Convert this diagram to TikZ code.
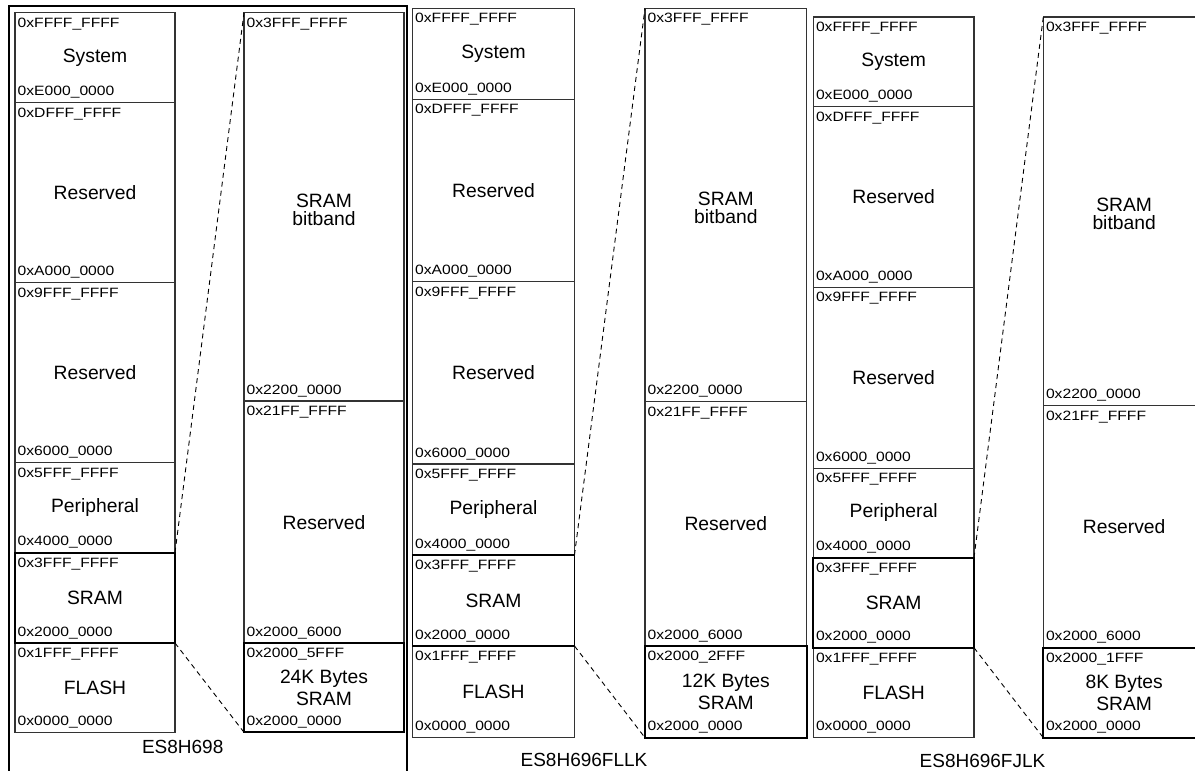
\documentclass[tikz,border=0pt]{standalone}
\usepackage{fontspec}
\setmainfont{Liberation Sans}
\newfontfamily\addrfont{Liberation Sans}[FakeStretch=1.16]
\tikzset{
  regbox/.style={draw=black!80, line width=1.1pt, inner sep=0pt, outer sep=0pt, anchor=north west},
  srambox/.style={regbox, draw=black, line width=1.7pt},
  addr/.style={font=\addrfont\fontsize{13.5}{15}\selectfont, inner sep=0pt, anchor=base west},
  lbl/.style={font=\fontsize{19.3}{22}\selectfont, inner sep=0pt, align=center},
  lblline/.style={font=\fontsize{19.3}{22}\selectfont, inner sep=0pt, anchor=base},
  link/.style={dashed, dash pattern=on 5pt off 4pt, line width=0.9pt, draw=black},
  panelframe/.style={draw=black, line width=2pt},
  title/.style={font=\fontsize{19}{21}\selectfont, inner sep=0pt}
}
% [style]{name}{x}{ytop}{ybot}{width}{top label}{bottom label}
\newcommand{\memreg}[8][regbox]{%
  \node[#1, minimum width=#6pt, minimum height=#5pt-#4pt] (#2) at (#3,#4) {};
  \node[addr, xshift=2.5pt, yshift=-14.5pt] (#2t) at (#2.north west) {#7};
  \node[addr, xshift=2.5pt, yshift=7pt] (#2b) at (#2.south west) {#8};
}
% {box name}: SRAM / bitband on two lines
\newcommand{\bitbandtext}[1]{%
  \node[lblline, yshift=-0.5pt] (#1s) at (#1.center) {SRAM};
  \node[lblline, yshift=-18.5pt] (#1bb) at (#1.center) {bitband};
}
\begin{document}
\begin{tikzpicture}[x=1pt,y=-1pt]
\useasboundingbox (0,0) rectangle (1195,771);
\clip (0,0) rectangle (1195,771);

% ---------------- Panel 1 : ES8H698 ----------------
\draw[panelframe] (9,780) -- (9,6) -- (407,6) -- (407,780);
\memreg{p1sys}{15}{12.7}{102.7}{160}{0xFFFF\_FFFF}{0xE000\_0000}
\memreg{p1resa}{15}{102.7}{282.7}{160}{0xDFFF\_FFFF}{0xA000\_0000}
\memreg{p1resb}{15}{282.7}{462.7}{160}{0x9FFF\_FFFF}{0x6000\_0000}
\memreg{p1per}{15}{462.7}{552.7}{160}{0x5FFF\_FFFF}{0x4000\_0000}
\memreg{p1fl}{15}{643}{732.3}{160}{0x1FFF\_FFFF}{0x0000\_0000}
\memreg[srambox]{p1sram}{15}{552.7}{643}{160}{0x3FFF\_FFFF}{0x2000\_0000}
\memreg{p1bit}{244}{12.7}{401}{160}{0x3FFF\_FFFF}{0x2200\_0000}
\memreg{p1bres}{244}{401}{643.3}{160}{0x21FF\_FFFF}{0x2000\_6000}
\memreg[srambox]{p1bsr}{244}{643.3}{732.3}{160}{0x2000\_5FFF}{0x2000\_0000}
\node[lbl] at (p1sys) {System};
\node[lbl] at (p1resa) {Reserved};
\node[lbl] at (p1resb) {Reserved};
\node[lbl] at (p1per) {Peripheral};
\node[lbl] at (p1sram) {SRAM};
\node[lbl] at (p1fl) {FLASH};
\bitbandtext{p1bit}
\node[lbl] at (p1bres) {Reserved};
\node[lbl] at (p1bsr) {24K Bytes\\SRAM};
\draw[link] (p1sram.north east) -- (p1bit.north west);
\draw[link] (p1sram.south east) -- (p1bsr.south west);
\node[title] (t1) at (182.7,746.7) {ES8H698};

% ---------------- Panel 2 : ES8H696FLLK ----------------
\memreg{p2sys}{412.5}{8.3}{99.3}{162}{0xFFFF\_FFFF}{0xE000\_0000}
\memreg{p2resa}{412.5}{99.3}{281.7}{162}{0xDFFF\_FFFF}{0xA000\_0000}
\memreg{p2resb}{412.5}{281.7}{464}{162}{0x9FFF\_FFFF}{0x6000\_0000}
\memreg{p2per}{412.5}{464}{555}{162}{0x5FFF\_FFFF}{0x4000\_0000}
\memreg{p2fl}{412.5}{646}{737.7}{162}{0x1FFF\_FFFF}{0x0000\_0000}
\memreg[srambox]{p2sram}{412.5}{555}{646}{162}{0x3FFF\_FFFF}{0x2000\_0000}
\memreg{p2bit}{645}{8.3}{401.7}{161.7}{0x3FFF\_FFFF}{0x2200\_0000}
\memreg{p2bres}{645}{401.7}{646}{161.7}{0x21FF\_FFFF}{0x2000\_6000}
\memreg[srambox]{p2bsr}{645}{646}{737.7}{161.7}{0x2000\_2FFF}{0x2000\_0000}
\node[lbl] at (p2sys) {System};
\node[lbl] at (p2resa) {Reserved};
\node[lbl] at (p2resb) {Reserved};
\node[lbl] at (p2per) {Peripheral};
\node[lbl] at (p2sram) {SRAM};
\node[lbl] at (p2fl) {FLASH};
\bitbandtext{p2bit}
\node[lbl] at (p2bres) {Reserved};
\node[lbl] at (p2bsr) {12K Bytes\\SRAM};
\draw[link] (p2sram.north east) -- (p2bit.north west);
\draw[link] (p2sram.south east) -- (p2bsr.south west);
\node[title] (t2) at (584,759.5) {ES8H696FLLK};

% ---------------- Panel 3 : ES8H696FJLK ----------------
\memreg{p3sys}{813.3}{17}{106.7}{160.7}{0xFFFF\_FFFF}{0xE000\_0000}
\memreg{p3resa}{813.3}{106.7}{287.3}{160.7}{0xDFFF\_FFFF}{0xA000\_0000}
\memreg{p3resb}{813.3}{287.3}{468.3}{160.7}{0x9FFF\_FFFF}{0x6000\_0000}
\memreg{p3per}{813.3}{468.3}{557.7}{160.7}{0x5FFF\_FFFF}{0x4000\_0000}
\memreg{p3fl}{813.3}{647.7}{737.7}{160.7}{0x1FFF\_FFFF}{0x0000\_0000}
\memreg[srambox]{p3sram}{813.3}{557.7}{647.7}{160.7}{0x3FFF\_FFFF}{0x2000\_0000}
\memreg{p3bit}{1043.3}{17}{405.7}{161.7}{0x3FFF\_FFFF}{0x2200\_0000}
\memreg{p3bres}{1043.3}{405.7}{647.7}{161.7}{0x21FF\_FFFF}{0x2000\_6000}
\memreg[srambox]{p3bsr}{1043.3}{647.7}{737.7}{161.7}{0x2000\_1FFF}{0x2000\_0000}
\node[lbl] at (p3sys) {System};
\node[lbl] at (p3resa) {Reserved};
\node[lbl] at (p3resb) {Reserved};
\node[lbl] at (p3per) {Peripheral};
\node[lbl] at (p3sram) {SRAM};
\node[lbl] at (p3fl) {FLASH};
\bitbandtext{p3bit}
\node[lbl] at (p3bres) {Reserved};
\node[lbl] at (p3bsr) {8K Bytes\\SRAM};
\draw[link] (p3sram.north east) -- (p3bit.north west);
\draw[link] (p3sram.south east) -- (p3bsr.south west);
\node[title] (t3) at (982.5,761) {ES8H696FJLK};
\end{tikzpicture}
\end{document}
